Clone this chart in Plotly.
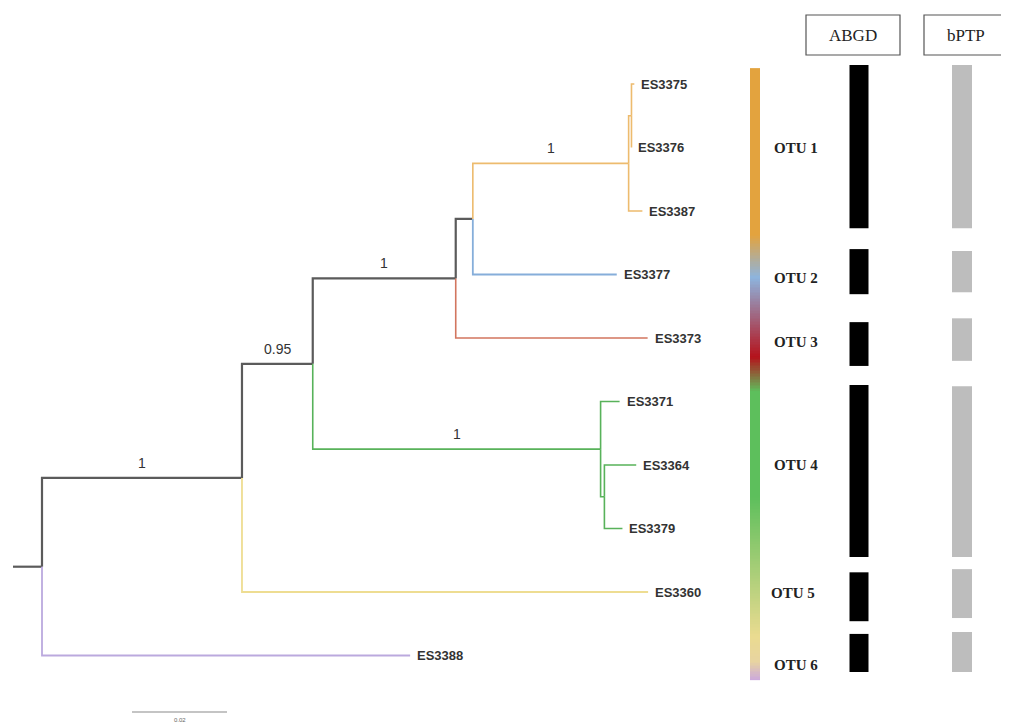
import plotly.graph_objects as go
import numpy as np

# ---------------- DATA ----------------
tip_order = ["ES3375", "ES3376", "ES3387", "ES3377", "ES3373",
             "ES3371", "ES3364", "ES3379", "ES3360", "ES3388"]

node_ids = ["n1", "n2", "n3", "n4", "n5", "n6", "n7", "n8",
            "ES3375", "ES3376", "ES3387", "ES3377", "ES3373",
            "ES3371", "ES3364", "ES3379", "ES3360", "ES3388"]
node_parent = ["root", "n1", "n2", "n3", "n4", "n5", "n2", "n7",
               "n6", "n6", "n5", "n4", "n3",
               "n7", "n8", "n8", "n1", "root"]
branch_length = [0.0421, 0.0149, 0.0301, 0.0036, 0.0328, 0.0006, 0.0606, 0.0008,
                 0.0006, 0.0000, 0.0029, 0.0303, 0.0404,
                 0.0040, 0.0067, 0.0038, 0.0855, 0.0775]
branch_group = ["core", "core", "core", "core", "otu1", "otu1", "otu4", "otu4",
                "otu1", "otu1", "otu1", "otu2", "otu3",
                "otu4", "otu4", "otu4", "otu5", "otu6"]

support_nodes = ["n1", "n2", "n3", "n5", "n7"]
support_values = ["1", "0.95", "1", "1", "1"]

otu_names = ["OTU 1", "OTU 2", "OTU 3", "OTU 4", "OTU 5", "OTU 6"]
otu_first_tip = ["ES3375", "ES3377", "ES3373", "ES3371", "ES3360", "ES3388"]
otu_last_tip = ["ES3387", "ES3377", "ES3373", "ES3379", "ES3360", "ES3388"]

# delimitation blocks (in tip-row units)
abgd_start = [-0.30, 2.60, 3.75, 4.74, 7.69, 8.66]
abgd_end = [2.27, 3.31, 4.44, 7.45, 8.46, 9.26]
bptp_start = [-0.30, 2.63, 3.69, 4.76, 7.64, 8.63]
bptp_end = [2.27, 3.28, 4.36, 7.45, 8.41, 9.26]

scale_length = 0.02
scale_label = "0.02"

# ---------------- STYLE ----------------
group_color = {"core": "#5b5b5b", "otu1": "#EDBB6E", "otu2": "#86AEDA",
               "otu3": "#D2765F", "otu4": "#58B25A", "otu5": "#EEDD92",
               "otu6": "#BBA9DE"}
group_width = {"core": 2.2, "otu1": 1.6, "otu2": 1.8, "otu3": 1.6,
               "otu4": 1.6, "otu5": 1.8, "otu6": 1.8}
otu_label_yshift = [0, -3, -4, 0, -1, -9]
otu_label_x = [772, 772, 772, 772, 769, 772]

# gradient strip (row position, colour)
strip_stops = [(-0.25, "#E3A33E"), (2.38, "#E3A33E"), (3.05, "#8DB4DE"),
               (4.30, "#B5121B"), (4.85, "#5DBF5C"), (6.50, "#5DBF5C"),
               (8.70, "#EADB90"), (9.10, "#E8D4A0"), (9.39, "#CBA8DE")]

PX_PER_UNIT = 4750.0
ROOT_PX = 42.0
ROW0_PX = 84.0
ROW_PX = 63.5
W, H = 1009, 727
OFF = 8.0  # page body margin: figure pixel 0 sits at reference pixel 8

# ---------------- TREE LAYOUT ----------------
children = {}
for n, p in zip(node_ids, node_parent):
    children.setdefault(p, []).append(n)
bl = dict(zip(node_ids, branch_length))
par = dict(zip(node_ids, node_parent))

xpos = {"root": 0.0}
for n in node_ids:
    xpos[n] = xpos[par[n]] + bl[n]

ypos = {}


def get_y(n):
    if n in ypos:
        return ypos[n]
    if n in tip_order:
        ypos[n] = float(tip_order.index(n))
    else:
        ys = [get_y(c) for c in children[n]]
        ypos[n] = (min(ys) + max(ys)) / 2.0
    return ypos[n]


get_y("root")

fig = go.Figure()

# root stub
fig.add_trace(go.Scatter(x=[-29 / PX_PER_UNIT, 0], y=[ypos["root"]] * 2, mode="lines",
                         line=dict(color=group_color["core"], width=group_width["core"]),
                         hoverinfo="skip", showlegend=False))

for g in group_color:
    xs, ys = [], []
    for n, grp in zip(node_ids, branch_group):
        if grp != g:
            continue
        p = par[n]
        xs += [xpos[p], xpos[p], xpos[n], None]
        ys += [ypos[p], ypos[n], ypos[n], None]
    fig.add_trace(go.Scatter(x=xs, y=ys, mode="lines",
                             line=dict(color=group_color[g], width=group_width[g]),
                             hoverinfo="skip", showlegend=False))

annotations = []
# tip labels
for t in tip_order:
    annotations.append(dict(x=xpos[t], y=ypos[t], text="<b>%s</b>" % t, showarrow=False,
                            xanchor="left", yanchor="middle", xshift=5,
                            font=dict(family="Liberation Sans, Arial", size=13, color="#333333"),
                            xref="x", yref="y"))
# support values
for n, v in zip(support_nodes, support_values):
    annotations.append(dict(x=xpos[par[n]] + bl[n] / 2, y=ypos[n], text=v, showarrow=False,
                            xanchor="center", yanchor="middle", yshift=15,
                            font=dict(family="Liberation Sans, Arial", size=14, color="#333333"),
                            xref="x", yref="y"))

# scale bar
sb_x0 = (132 - ROOT_PX) / PX_PER_UNIT
sb_y = (712 - ROW0_PX) / ROW_PX
fig.add_trace(go.Scatter(x=[sb_x0, sb_x0 + scale_length], y=[sb_y, sb_y], mode="lines",
                         line=dict(color="#8a8a8a", width=1.2), hoverinfo="skip", showlegend=False))
annotations.append(dict(x=sb_x0 + scale_length / 2, y=sb_y, text=scale_label, showarrow=False,
                        yshift=-8, font=dict(family="Liberation Sans, Arial", size=6, color="#666666"),
                        xref="x", yref="y"))

# ---------------- RIGHT PANEL (x2 axis) ----------------
y_lo, y_hi = strip_stops[0][0], strip_stops[-1][0]
n_rows = 400
y_edges = np.linspace(y_lo, y_hi, n_rows + 1)
y_cent = (y_edges[:-1] + y_edges[1:]) / 2
cscale = [[(p - y_lo) / (y_hi - y_lo), c] for p, c in strip_stops]
fig.add_trace(go.Heatmap(x=[750, 760], y=y_edges, z=[[v] for v in y_cent],
                         colorscale=cscale, zmin=y_lo, zmax=y_hi, showscale=False,
                         hoverinfo="skip", xaxis="x2", yaxis="y"))

fig.add_trace(go.Bar(x=[859] * len(abgd_start), base=abgd_start,
                     y=[e - s for s, e in zip(abgd_start, abgd_end)],
                     width=19, marker=dict(color="#000000", line=dict(width=0)),
                     xaxis="x2", yaxis="y", hoverinfo="skip", showlegend=False))
fig.add_trace(go.Bar(x=[962] * len(bptp_start), base=bptp_start,
                     y=[e - s for s, e in zip(bptp_start, bptp_end)],
                     width=20, marker=dict(color="#BDBDBD", line=dict(width=0)),
                     xaxis="x2", yaxis="y", hoverinfo="skip", showlegend=False))

for name, a, b, ysh, lx in zip(otu_names, otu_first_tip, otu_last_tip, otu_label_yshift, otu_label_x):
    yc = (ypos[a] + ypos[b]) / 2
    annotations.append(dict(x=lx, y=yc, text="<b>%s</b>" % name, showarrow=False,
                            xanchor="left", yanchor="middle", yshift=ysh,
                            font=dict(family="Liberation Serif, Times New Roman", size=15, color="#222222"),
                            xref="x2", yref="y"))

shapes = []
box_y0 = (15 - ROW0_PX) / ROW_PX
box_y1 = (55 - ROW0_PX) / ROW_PX
for label, bx0, bx1 in [("ABGD", 806, 900), ("bPTP", 924, 1007)]:
    shapes.append(dict(type="rect", xref="x2", yref="y", x0=bx0, x1=bx1, y0=box_y0, y1=box_y1,
                       line=dict(color="#555555", width=1.2), fillcolor="rgba(0,0,0,0)"))
    annotations.append(dict(x=(bx0 + bx1) / 2, y=(box_y0 + box_y1) / 2, text=label, showarrow=False,
                            xanchor="center", yanchor="middle",
                            font=dict(family="Liberation Serif, Times New Roman", size=17, color="#222222"),
                            xref="x2", yref="y"))

fig.update_layout(
    width=W, height=H, margin=dict(l=0, r=0, t=0, b=0),
    paper_bgcolor="white", plot_bgcolor="white", showlegend=False,
    barmode="overlay",
    xaxis=dict(range=[(OFF - ROOT_PX) / PX_PER_UNIT, (OFF + W - ROOT_PX) / PX_PER_UNIT],
               visible=False, domain=[0, 1], fixedrange=True),
    xaxis2=dict(range=[OFF, OFF + W], visible=False, overlaying="x", anchor="y", fixedrange=True),
    yaxis=dict(range=[(OFF + H - ROW0_PX) / ROW_PX, (OFF - ROW0_PX) / ROW_PX],
               visible=False, fixedrange=True),
    annotations=annotations, shapes=shapes,
)

fig.write_html("out.html")
